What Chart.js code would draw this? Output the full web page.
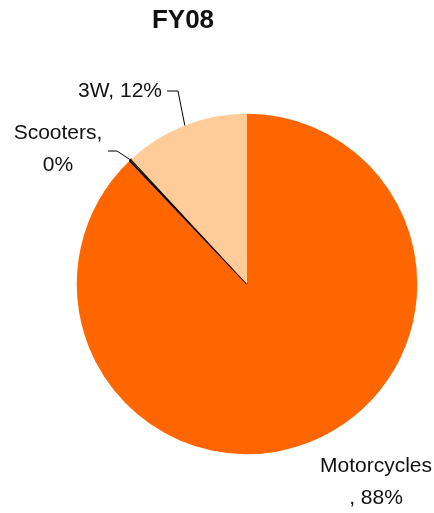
<!DOCTYPE html>
<html>
<head>
<meta charset="utf-8">
<script src="https://cdn.jsdelivr.net/npm/chart.js@4"></script>
<style>
  html, body { margin: 0; padding: 0; background: #fff; }
  #wrap { width: 434px; height: 513px; }
</style>
</head>
<body>
<div id="wrap"><canvas id="fy08-chart" width="434" height="513"></canvas></div>
<script>
const categories = ['Motorcycles', 'Scooters', '3W'];
const shares = [87.9, 0.2, 11.9];
const sliceColors = ['#FF6600', '#808000', '#FFCC99'];

// label placement: text centre x, first line y, and leader elbow (x, y) + end x
const labelSpots = [
  { x: 376, y: 466, lines: ['Motorcycles', ', 88%'], leader: null },
  { x: 58, y: 133, lines: ['Scooters,', '0%'], leader: [117, 151, 108] },
  { x: 120, y: 91, lines: ['3W, 12%'], leader: [178, 91, 167] }
];

const pieLabels = {
  id: 'pieLabels',
  afterDraw(chart) {
    const ctx = chart.ctx;
    const total = shares.reduce((a, b) => a + b, 0);
    const arcs = chart.getDatasetMeta(0).data;
    ctx.save();

    // title
    ctx.fillStyle = '#111';
    ctx.font = 'bold 26px "Liberation Sans", Arial, sans-serif';
    ctx.textAlign = 'center';
    ctx.textBaseline = 'middle';
    ctx.fillText('FY08', 183, 21);

    ctx.font = '21px "Liberation Sans", Arial, sans-serif';
    categories.forEach((name, i) => {
      const spot = labelSpots[i];
      const pct = Math.round(shares[i] / total * 100) + '%';
      const lines = spot.lines.map(l => l.replace(/\d+%/, pct));
      lines.forEach((l, k) => ctx.fillText(l, spot.x, spot.y + k * 32));

      if (spot.leader) {
        const a = arcs[i];
        const mid = (a.startAngle + a.endAngle) / 2;
        const ex = a.x + Math.cos(mid) * a.outerRadius;
        const ey = a.y + Math.sin(mid) * a.outerRadius;
        ctx.strokeStyle = '#000';
        ctx.lineWidth = 1;
        ctx.beginPath();
        ctx.moveTo(ex, ey);
        ctx.lineTo(spot.leader[0], spot.leader[1]);
        ctx.lineTo(spot.leader[2], spot.leader[1]);
        ctx.stroke();
      }
    });
    ctx.restore();
  }
};

new Chart(document.getElementById('fy08-chart'), {
  type: 'pie',
  data: {
    labels: categories,
    datasets: [{
      data: shares,
      backgroundColor: sliceColors,
      borderColor: '#000',
      borderWidth: [0, 1.5, 0]
    }]
  },
  options: {
    responsive: false,
    animation: false,
    layout: { padding: { left: 76, right: 16, top: 113, bottom: 58 } },
    plugins: {
      legend: { display: false },
      tooltip: { enabled: false }
    }
  },
  plugins: [pieLabels]
});
</script>
</body>
</html>
